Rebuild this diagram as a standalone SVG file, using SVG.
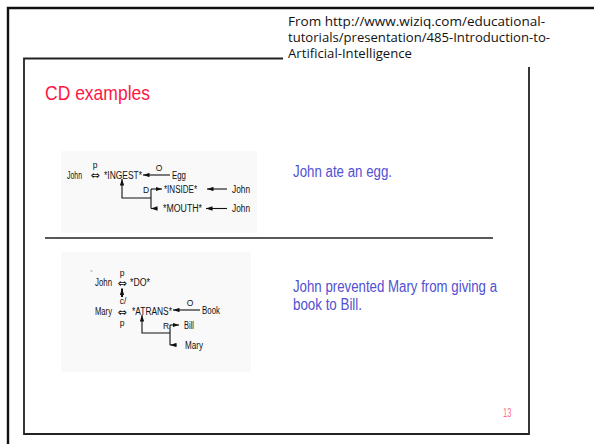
<svg xmlns="http://www.w3.org/2000/svg" width="594" height="444" viewBox="0 0 594 444">
<defs>
<style>
.frame{fill:none;stroke:#111;stroke-width:2.4}
.inner{fill:none;stroke:#222;stroke-width:1.8}
.src{font-family:"Open Sans","Noto Sans",sans-serif;font-size:12px;fill:#111}
.title{font-family:"Liberation Sans",Arial,sans-serif;font-size:21px;fill:#ff1744}
.blue{font-family:"Liberation Sans",Arial,sans-serif;font-size:16px;fill:#5050d2}
.pg{font-family:"Liberation Sans",Arial,sans-serif;font-size:12px;fill:#ff6f8f}
.lbl{font-family:"Liberation Sans",Arial,sans-serif;font-size:10px;fill:#111}
.sm{font-family:"Liberation Sans",Arial,sans-serif;font-size:8.5px;fill:#111}
.sym{font-family:"DejaVu Sans",sans-serif;font-size:11px;fill:#111}
.cn{fill:none;stroke:#111;stroke-width:1.1}
.img{fill:#f9f9f9}
</style>
<marker id="ah" viewBox="0 0 6 4" refX="6" refY="2" markerWidth="6.5" markerHeight="4.8" markerUnits="userSpaceOnUse" orient="auto">
<path d="M0,0 L6,2 L0,4 z" fill="#111"/>
</marker>
</defs>
<rect width="594" height="444" fill="#fff"/>
<g id="outer-frame">
<path class="frame" d="M8,444 V8 H594"/>
</g>
<g id="slide-frame">
<path class="inner" d="M283,58.5 H24 V434 H529 V67"/>
</g>
<g id="source-note">
<text class="src" x="288" y="26" textLength="257" lengthAdjust="spacingAndGlyphs">From http://www.wiziq.com/educational-</text>
<text class="src" x="288" y="42" textLength="262" lengthAdjust="spacingAndGlyphs">tutorials/presentation/485-Introduction-to-</text>
<text class="src" x="288" y="58" textLength="124" lengthAdjust="spacingAndGlyphs">Artificial-Intelligence</text>
</g>
<g id="title">
<text class="title" x="45" y="100" textLength="105" lengthAdjust="spacingAndGlyphs">CD examples</text>
</g>
<rect class="img" x="61" y="151" width="196" height="82"/>
<rect class="img" x="61" y="252" width="190" height="120"/>
<g id="example1">
<g id="n-john1"><text class="lbl" x="67" y="178.5" textLength="15" lengthAdjust="spacingAndGlyphs">John</text></g>
<g id="n-rel1"><text class="sm" x="95" y="167.5" text-anchor="middle" font-size="7.5">p</text><text class="sym" x="95" y="179" text-anchor="middle">⇔</text></g>
<g id="n-ingest"><text class="lbl" x="104" y="178.5" textLength="38" lengthAdjust="spacingAndGlyphs">*INGEST*</text></g>
<g id="n-egg"><text class="lbl" x="172" y="178.5" textLength="14" lengthAdjust="spacingAndGlyphs">Egg</text></g>
<g id="n-inside"><text class="lbl" x="164" y="192.5" textLength="33" lengthAdjust="spacingAndGlyphs">*INSIDE*</text></g>
<g id="n-john2"><text class="lbl" x="232" y="192.5" textLength="18" lengthAdjust="spacingAndGlyphs">John</text></g>
<g id="n-mouth"><text class="lbl" x="163" y="212" textLength="39" lengthAdjust="spacingAndGlyphs">*MOUTH*</text></g>
<g id="n-john3"><text class="lbl" x="232" y="212" textLength="18" lengthAdjust="spacingAndGlyphs">John</text></g>
<g id="connectors1">
<line class="cn" x1="170" y1="175" x2="143" y2="175" marker-end="url(#ah)"/>
<text class="sm" x="159" y="170.5" text-anchor="middle">O</text>
<path class="cn" d="M151,198 H122 V179" marker-end="url(#ah)"/>
<path class="cn" d="M151,189 V208.5"/>
<path class="cn" d="M151,189 H162" marker-end="url(#ah)"/>
<path class="cn" d="M157.5,208.5 H151" marker-end="url(#ah)"/>
<text class="sm" x="143" y="192.5">D</text>
<line class="cn" x1="227" y1="189" x2="207" y2="189" marker-end="url(#ah)"/>
<line class="cn" x1="227" y1="208.5" x2="206" y2="208.5" marker-end="url(#ah)"/>
</g>
</g>
<g id="example2">
<line x1="90.5" y1="271" x2="92.5" y2="271" stroke="#999" stroke-width="1"/>
<g id="n2-john"><text class="lbl" x="95" y="286" textLength="17" lengthAdjust="spacingAndGlyphs">John</text></g>
<g id="n2-rel1"><text class="sm" x="122" y="276" text-anchor="middle" font-size="7.5">p</text><text class="sym" x="122" y="287" text-anchor="middle">⇔</text></g>
<g id="n2-do"><text class="lbl" x="130" y="286" textLength="20" lengthAdjust="spacingAndGlyphs">*DO*</text></g>
<g id="n2-mary"><text class="lbl" x="95" y="315" textLength="17" lengthAdjust="spacingAndGlyphs">Mary</text></g>
<g id="n2-rel2"><text class="sym" x="122" y="315.5" text-anchor="middle" font-size="10.5">⇔</text><text class="sm" x="122" y="325.5" text-anchor="middle" font-size="7.5">p</text></g>
<g id="n2-atrans"><text class="lbl" x="132" y="314.5" textLength="40" lengthAdjust="spacingAndGlyphs">*ATRANS*</text></g>
<g id="n2-book"><text class="lbl" x="202" y="314" textLength="18" lengthAdjust="spacingAndGlyphs">Book</text></g>
<g id="n2-bill"><text class="lbl" x="184" y="328.5" textLength="10" lengthAdjust="spacingAndGlyphs">Bill</text></g>
<g id="n2-mary2"><text class="lbl" x="185" y="348.5" textLength="18" lengthAdjust="spacingAndGlyphs">Mary</text></g>
<g id="connectors2">
<line x1="122" y1="297" x2="122" y2="288.5" stroke="#111" stroke-width="2" marker-end="url(#ah)"/>
<text class="sm" x="123" y="303.5" text-anchor="middle" font-size="8">c/</text>
<line class="cn" x1="200" y1="310" x2="173" y2="310" marker-end="url(#ah)"/>
<text class="sm" x="190" y="306" text-anchor="middle">O</text>
<path class="cn" d="M170,333 H142 V315" marker-end="url(#ah)"/>
<path class="cn" d="M170,325 V345"/>
<path class="cn" d="M170,325 H179" marker-end="url(#ah)"/>
<path class="cn" d="M176.5,345 H170" marker-end="url(#ah)"/>
<text class="sm" x="163" y="328.5">R</text>
</g>
</g>
<g id="caption1">
<text class="blue" x="293" y="177" textLength="99" lengthAdjust="spacingAndGlyphs">John ate an egg.</text>
</g>
<g id="separator">
<line x1="45" y1="238" x2="493" y2="238" stroke="#222" stroke-width="1.5"/>
</g>
<g id="caption2">
<text class="blue" x="293" y="292" textLength="204" lengthAdjust="spacingAndGlyphs">John prevented Mary from giving a</text>
<text class="blue" x="293" y="310" textLength="69" lengthAdjust="spacingAndGlyphs">book to Bill.</text>
</g>
<g id="page-number">
<text class="pg" x="503" y="417" textLength="8.5" lengthAdjust="spacingAndGlyphs">13</text>
</g>
</svg>
